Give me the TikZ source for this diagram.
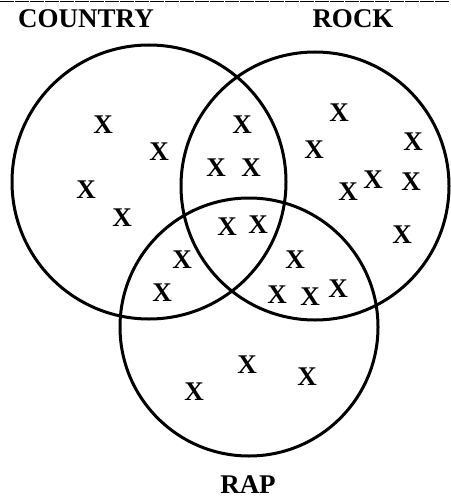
\documentclass[tikz,border=0pt]{standalone}
\usepackage{fontspec}
\setmainfont{Liberation Serif}
\usetikzlibrary{positioning}
\tikzset{
	setcircle/.style={%
			draw,%
			circle,%
			line width=3pt,%
			inner sep=0pt},%
	setlabel/.style={%
			font={\fontsize{27}{27}\selectfont\bfseries},%
			anchor=base,%
			inner sep=0pt},%
	xmark/.style={%
			font={\fontsize{27}{27}\selectfont\bfseries},%
			inner sep=0pt},%
}
\begin{document}
\begin{tikzpicture}[x=1pt, y=-1pt]%
	\useasboundingbox (0,0) rectangle (450,500);
	\draw[line width=1.2pt, dash pattern=on 14pt off 1pt] (0,1.5) -- (450,1.5);

	\node[setcircle, minimum size=274pt] (country) at (149,182) {};
	\node[setcircle, minimum size=268pt] (rock) at (315,186) {};
	\node[setcircle, minimum size=258pt] (rap) at (249,327) {};

	\node[setlabel] (countrylabel) at (86,28) {COUNTRY};
	\node[setlabel] (rocklabel) at (353,28) {ROCK};
	\node[setlabel] (raplabel) at (248,493) {RAP};

	% country, country & rock, all three, rock, country & rap, rock & rap, rap
	\foreach \px/\py [count=\i] in {%
			103/125, 159/152, 86/190, 122/218,%
			242/125, 216/168, 251/168,%
			227/227, 258/225,%
			339/113, 314/150, 413/142, 348/192, 373/180, 411/182, 402/235,%
			182/260, 162/293,%
			295/260, 277/295, 310/297, 338/289,%
			247/365, 194/392, 307/377}
		\node[xmark] (x\i) at (\px,\py) {X};
\end{tikzpicture}
\end{document}
